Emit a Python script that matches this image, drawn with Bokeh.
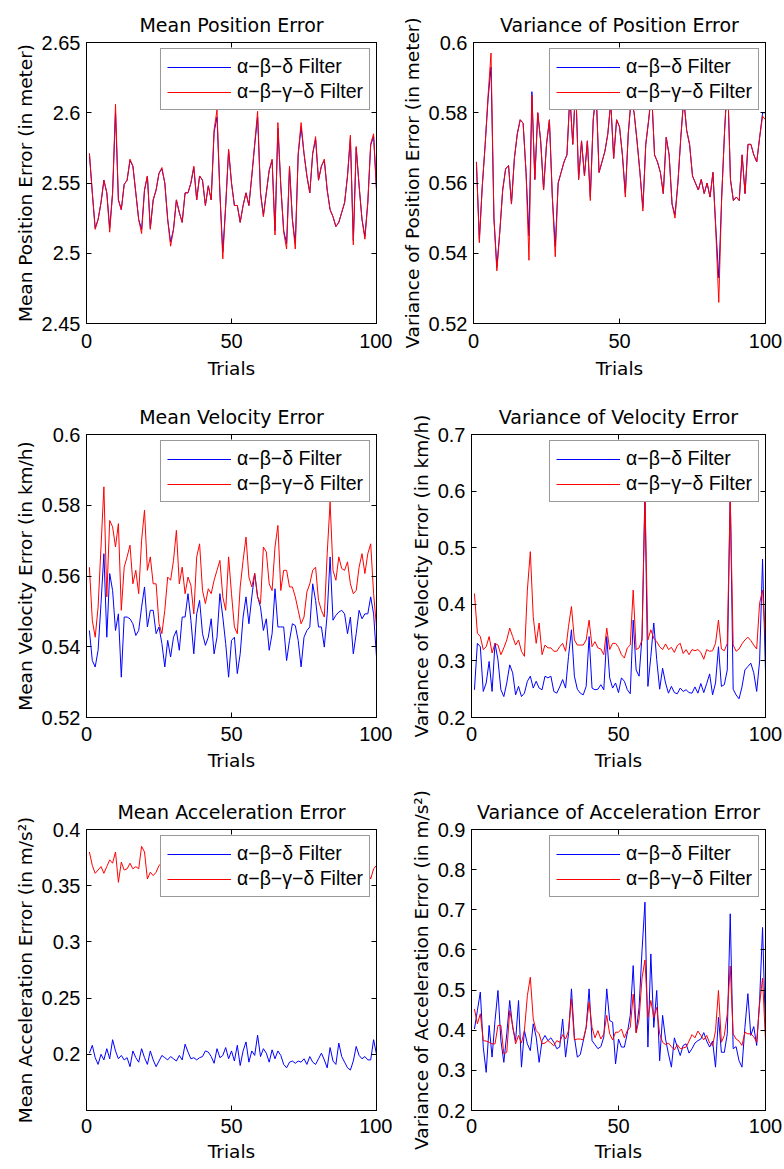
from bokeh.plotting import figure
from bokeh.models import (Range1d, FixedTicker, LinearAxis, CustomJSTickFormatter,
                          Legend, LegendItem)
from bokeh.layouts import column, row
from bokeh.embed import file_html
from bokeh.resources import INLINE

# ---------------- data ----------------
trials = list(range(1, 101))
x_ticks = [0, 50, 100]
series_labels = ["\u03b1\u2212\u03b2\u2212\u03b4 Filter", "\u03b1\u2212\u03b2\u2212\u03b3\u2212\u03b4 Filter"]

pos_mean_abgd = [2.571, 2.543, 2.517, 2.524, 2.536, 2.552, 2.543, 2.515, 2.543, 2.606,
                 2.538, 2.531, 2.549, 2.552, 2.567, 2.562, 2.543, 2.524, 2.514, 2.545,
                 2.555, 2.517, 2.538, 2.545, 2.557, 2.561, 2.550, 2.524, 2.505, 2.517,
                 2.538, 2.529, 2.522, 2.543, 2.543, 2.550, 2.562, 2.538, 2.555, 2.552,
                 2.534, 2.548, 2.538, 2.588, 2.602, 2.543, 2.496, 2.534, 2.574, 2.550,
                 2.534, 2.534, 2.522, 2.534, 2.543, 2.534, 2.555, 2.578, 2.601, 2.543,
                 2.526, 2.543, 2.559, 2.567, 2.513, 2.593, 2.548, 2.515, 2.503, 2.562,
                 2.524, 2.503, 2.571, 2.593, 2.571, 2.555, 2.543, 2.571, 2.583, 2.552,
                 2.562, 2.567, 2.545, 2.531, 2.526, 2.519, 2.522, 2.529, 2.536, 2.555,
                 2.584, 2.506, 2.576, 2.548, 2.524, 2.510, 2.536, 2.578, 2.585, 2.545]
pos_mean_abd = [2.571, 2.543, 2.518, 2.524, 2.536, 2.552, 2.543, 2.518, 2.543, 2.600,
                2.538, 2.531, 2.549, 2.552, 2.566, 2.562, 2.543, 2.524, 2.517, 2.545,
                2.555, 2.518, 2.538, 2.545, 2.557, 2.560, 2.550, 2.524, 2.508, 2.517,
                2.538, 2.529, 2.522, 2.543, 2.543, 2.550, 2.561, 2.538, 2.555, 2.552,
                2.534, 2.548, 2.538, 2.586, 2.597, 2.543, 2.501, 2.534, 2.573, 2.550,
                2.534, 2.534, 2.522, 2.534, 2.543, 2.534, 2.555, 2.577, 2.597, 2.543,
                2.527, 2.543, 2.559, 2.566, 2.516, 2.589, 2.548, 2.516, 2.507, 2.561,
                2.524, 2.507, 2.570, 2.590, 2.571, 2.555, 2.543, 2.571, 2.581, 2.552,
                2.562, 2.566, 2.545, 2.531, 2.526, 2.519, 2.522, 2.529, 2.536, 2.555,
                2.582, 2.509, 2.575, 2.548, 2.524, 2.512, 2.536, 2.577, 2.583, 2.545]

pos_var_abgd = [0.566, 0.543, 0.559, 0.571, 0.585, 0.597, 0.550, 0.535, 0.546, 0.558,
                0.564, 0.565, 0.554, 0.567, 0.574, 0.578, 0.577, 0.563, 0.538, 0.585,
                0.561, 0.580, 0.572, 0.558, 0.571, 0.578, 0.556, 0.539, 0.560, 0.563,
                0.566, 0.568, 0.585, 0.571, 0.588, 0.561, 0.572, 0.562, 0.572, 0.555,
                0.578, 0.586, 0.563, 0.566, 0.569, 0.574, 0.583, 0.567, 0.578, 0.576,
                0.568, 0.556, 0.574, 0.584, 0.580, 0.572, 0.563, 0.552, 0.571, 0.578,
                0.586, 0.568, 0.566, 0.563, 0.557, 0.573, 0.568, 0.554, 0.550, 0.560,
                0.573, 0.584, 0.575, 0.571, 0.562, 0.560, 0.558, 0.561, 0.557, 0.560,
                0.556, 0.563, 0.546, 0.526, 0.556, 0.575, 0.590, 0.561, 0.555, 0.556,
                0.555, 0.568, 0.557, 0.571, 0.571, 0.568, 0.566, 0.573, 0.579, 0.578]
pos_var_abd = [0.566, 0.544, 0.559, 0.571, 0.584, 0.593, 0.550, 0.536, 0.546, 0.558,
               0.564, 0.565, 0.554, 0.567, 0.574, 0.578, 0.577, 0.563, 0.545, 0.586,
               0.561, 0.580, 0.572, 0.558, 0.571, 0.578, 0.556, 0.542, 0.560, 0.563,
               0.566, 0.568, 0.585, 0.571, 0.588, 0.561, 0.572, 0.562, 0.572, 0.556,
               0.578, 0.586, 0.563, 0.566, 0.569, 0.574, 0.583, 0.567, 0.578, 0.576,
               0.568, 0.557, 0.574, 0.584, 0.580, 0.572, 0.563, 0.553, 0.571, 0.578,
               0.586, 0.568, 0.566, 0.563, 0.557, 0.573, 0.568, 0.554, 0.551, 0.560,
               0.573, 0.584, 0.575, 0.571, 0.562, 0.560, 0.558, 0.561, 0.557, 0.560,
               0.556, 0.563, 0.547, 0.533, 0.556, 0.575, 0.590, 0.561, 0.555, 0.556,
               0.555, 0.568, 0.557, 0.571, 0.571, 0.568, 0.566, 0.573, 0.580, 0.580]

vel_mean_abgd = [0.5625, 0.5475, 0.5427, 0.5512, 0.5682, 0.5852, 0.5541, 0.5757, 0.5739, 0.5682,
                 0.5748, 0.5503, 0.5625, 0.5654, 0.5687, 0.5578, 0.5616, 0.5550, 0.5701, 0.5786,
                 0.5616, 0.5654, 0.5578, 0.5578, 0.5465, 0.5437, 0.5503, 0.5597, 0.5588, 0.5644,
                 0.5729, 0.5578, 0.5625, 0.5550, 0.5597, 0.5574, 0.5493, 0.5654, 0.5691, 0.5559,
                 0.5522, 0.5564, 0.5550, 0.5588, 0.5616, 0.5644, 0.5541, 0.5503, 0.5654, 0.5550,
                 0.5456, 0.5437, 0.5569, 0.5644, 0.5710, 0.5597, 0.5569, 0.5607, 0.5541, 0.5522,
                 0.5682, 0.5668, 0.5578, 0.5559, 0.5682, 0.5743, 0.5559, 0.5616, 0.5616, 0.5569,
                 0.5569, 0.5541, 0.5503, 0.5465, 0.5484, 0.5555, 0.5578, 0.5616, 0.5625, 0.5531,
                 0.5503, 0.5484, 0.5663, 0.5809, 0.5616, 0.5588, 0.5654, 0.5621, 0.5616, 0.5640,
                 0.5578, 0.5550, 0.5559, 0.5625, 0.5663, 0.5607, 0.5663, 0.5691, 0.5550, 0.5456]
vel_mean_abd = [0.5446, 0.5361, 0.5343, 0.5390, 0.5522, 0.5663, 0.5427, 0.5607, 0.5559, 0.5446,
                0.5493, 0.5314, 0.5484, 0.5484, 0.5479, 0.5465, 0.5432, 0.5446, 0.5512, 0.5569,
                0.5456, 0.5503, 0.5503, 0.5437, 0.5456, 0.5409, 0.5343, 0.5418, 0.5371, 0.5427,
                0.5446, 0.5390, 0.5484, 0.5484, 0.5550, 0.5475, 0.5380, 0.5493, 0.5531, 0.5437,
                0.5404, 0.5427, 0.5479, 0.5380, 0.5427, 0.5550, 0.5484, 0.5409, 0.5314, 0.5418,
                0.5427, 0.5324, 0.5380, 0.5484, 0.5541, 0.5465, 0.5541, 0.5607, 0.5541, 0.5512,
                0.5446, 0.5479, 0.5390, 0.5437, 0.5564, 0.5456, 0.5456, 0.5456, 0.5361, 0.5418,
                0.5465, 0.5460, 0.5418, 0.5343, 0.5427, 0.5446, 0.5456, 0.5578, 0.5531, 0.5456,
                0.5456, 0.5399, 0.5493, 0.5654, 0.5475, 0.5489, 0.5498, 0.5503, 0.5493, 0.5437,
                0.5484, 0.5380, 0.5437, 0.5503, 0.5479, 0.5493, 0.5493, 0.5541, 0.5493, 0.5371]

vel_var_abgd = [0.419, 0.349, 0.343, 0.320, 0.325, 0.343, 0.314, 0.331, 0.328, 0.311,
                0.323, 0.337, 0.358, 0.343, 0.328, 0.337, 0.317, 0.308, 0.425, 0.493,
                0.378, 0.331, 0.367, 0.311, 0.328, 0.323, 0.323, 0.317, 0.317, 0.325,
                0.331, 0.317, 0.361, 0.396, 0.337, 0.328, 0.328, 0.328, 0.337, 0.372,
                0.325, 0.334, 0.323, 0.321, 0.311, 0.358, 0.320, 0.331, 0.331, 0.324,
                0.311, 0.305, 0.323, 0.328, 0.425, 0.320, 0.323, 0.337, 0.590, 0.337,
                0.355, 0.340, 0.334, 0.325, 0.320, 0.330, 0.320, 0.324, 0.315, 0.327,
                0.331, 0.313, 0.320, 0.311, 0.320, 0.318, 0.320, 0.315, 0.303, 0.320,
                0.317, 0.318, 0.331, 0.372, 0.321, 0.318, 0.331, 0.590, 0.328, 0.317,
                0.321, 0.330, 0.337, 0.342, 0.336, 0.328, 0.321, 0.402, 0.425, 0.337]
vel_var_abd = [0.249, 0.331, 0.325, 0.246, 0.261, 0.299, 0.246, 0.331, 0.302, 0.249,
               0.237, 0.261, 0.293, 0.279, 0.240, 0.255, 0.237, 0.243, 0.264, 0.273,
               0.252, 0.264, 0.252, 0.249, 0.273, 0.270, 0.273, 0.246, 0.243, 0.254,
               0.267, 0.252, 0.308, 0.355, 0.273, 0.250, 0.243, 0.240, 0.255, 0.343,
               0.252, 0.249, 0.250, 0.258, 0.249, 0.343, 0.270, 0.252, 0.261, 0.244,
               0.270, 0.264, 0.249, 0.242, 0.372, 0.284, 0.273, 0.343, 0.600, 0.255,
               0.308, 0.367, 0.302, 0.250, 0.287, 0.261, 0.243, 0.255, 0.244, 0.242,
               0.252, 0.246, 0.249, 0.244, 0.243, 0.254, 0.243, 0.260, 0.244, 0.260,
               0.277, 0.240, 0.261, 0.325, 0.255, 0.258, 0.284, 0.600, 0.250, 0.240,
               0.233, 0.254, 0.284, 0.290, 0.296, 0.279, 0.246, 0.300, 0.480, 0.280]

acc_mean_abgd = [0.380, 0.368, 0.361, 0.364, 0.367, 0.361, 0.367, 0.373, 0.370, 0.380,
                 0.353, 0.371, 0.364, 0.365, 0.370, 0.365, 0.367, 0.365, 0.385, 0.380,
                 0.356, 0.362, 0.359, 0.362, 0.368, 0.370, 0.365, 0.372, 0.360, 0.368,
                 0.375, 0.362, 0.370, 0.378, 0.364, 0.369, 0.372, 0.360, 0.366, 0.374,
                 0.368, 0.361, 0.371, 0.365, 0.377, 0.363, 0.369, 0.374, 0.362, 0.368,
                 0.372, 0.359, 0.366, 0.380, 0.371, 0.364, 0.367, 0.373, 0.382, 0.366,
                 0.361, 0.370, 0.368, 0.375, 0.362, 0.369, 0.371, 0.364, 0.360, 0.367,
                 0.373, 0.365, 0.362, 0.370, 0.368, 0.363, 0.371, 0.366, 0.374, 0.369,
                 0.362, 0.367, 0.372, 0.378, 0.365, 0.361, 0.376, 0.370, 0.364, 0.368,
                 0.372, 0.366, 0.361, 0.369, 0.373, 0.365, 0.362, 0.356, 0.365, 0.368]
acc_mean_abd = [0.201, 0.208, 0.197, 0.191, 0.200, 0.195, 0.205, 0.196, 0.213, 0.203,
                0.196, 0.199, 0.195, 0.197, 0.189, 0.203, 0.197, 0.193, 0.205, 0.197,
                0.191, 0.203, 0.195, 0.189, 0.194, 0.199, 0.197, 0.195, 0.198, 0.196,
                0.194, 0.199, 0.195, 0.209, 0.202, 0.196, 0.197, 0.195, 0.197, 0.198,
                0.203, 0.202, 0.198, 0.192, 0.205, 0.197, 0.199, 0.206, 0.196, 0.203,
                0.194, 0.208, 0.190, 0.203, 0.211, 0.193, 0.203, 0.199, 0.217, 0.198,
                0.205, 0.201, 0.193, 0.204, 0.196, 0.203, 0.199, 0.191, 0.188, 0.193,
                0.194, 0.192, 0.194, 0.193, 0.196, 0.191, 0.198, 0.193, 0.191, 0.196,
                0.201, 0.195, 0.188, 0.206, 0.194, 0.191, 0.210, 0.198, 0.193, 0.188,
                0.186, 0.194, 0.207, 0.199, 0.196, 0.198, 0.195, 0.195, 0.213, 0.200]

acc_var_abgd = [0.453, 0.416, 0.441, 0.374, 0.373, 0.370, 0.366, 0.366, 0.412, 0.412,
                0.341, 0.345, 0.449, 0.412, 0.366, 0.387, 0.368, 0.399, 0.486, 0.532,
                0.428, 0.399, 0.391, 0.366, 0.368, 0.374, 0.368, 0.361, 0.374, 0.370,
                0.389, 0.378, 0.399, 0.478, 0.376, 0.378, 0.378, 0.376, 0.407, 0.470,
                0.407, 0.381, 0.399, 0.378, 0.391, 0.437, 0.391, 0.376, 0.395, 0.395,
                0.403, 0.381, 0.399, 0.407, 0.490, 0.393, 0.428, 0.530, 0.575, 0.432,
                0.474, 0.432, 0.457, 0.391, 0.370, 0.364, 0.368, 0.359, 0.351, 0.364,
                0.354, 0.356, 0.358, 0.373, 0.389, 0.381, 0.398, 0.387, 0.376, 0.387,
                0.368, 0.361, 0.399, 0.499, 0.370, 0.387, 0.441, 0.560, 0.391, 0.378,
                0.373, 0.362, 0.395, 0.391, 0.391, 0.384, 0.370, 0.466, 0.530, 0.374]
acc_var_abd = [0.403, 0.449, 0.495, 0.358, 0.295, 0.412, 0.333, 0.424, 0.499, 0.374,
               0.320, 0.391, 0.474, 0.407, 0.374, 0.474, 0.308, 0.399, 0.366, 0.349,
               0.416, 0.383, 0.320, 0.374, 0.387, 0.374, 0.381, 0.370, 0.354, 0.358,
               0.428, 0.333, 0.391, 0.503, 0.383, 0.333, 0.339, 0.373, 0.407, 0.503,
               0.374, 0.364, 0.354, 0.359, 0.383, 0.503, 0.424, 0.420, 0.316, 0.378,
               0.358, 0.358, 0.393, 0.437, 0.561, 0.395, 0.457, 0.598, 0.719, 0.358,
               0.590, 0.407, 0.499, 0.324, 0.437, 0.378, 0.341, 0.308, 0.381, 0.358,
               0.337, 0.362, 0.366, 0.343, 0.354, 0.368, 0.374, 0.378, 0.394, 0.373,
               0.358, 0.373, 0.308, 0.432, 0.345, 0.345, 0.391, 0.690, 0.354, 0.359,
               0.324, 0.308, 0.407, 0.491, 0.387, 0.409, 0.362, 0.474, 0.656, 0.399]

pos_mean_ticks = [2.45, 2.5, 2.55, 2.6, 2.65]
pos_var_ticks = [0.52, 0.54, 0.56, 0.58, 0.6]
vel_mean_ticks = [0.52, 0.54, 0.56, 0.58, 0.6]
vel_var_ticks = [0.2, 0.3, 0.4, 0.5, 0.6, 0.7]
acc_mean_ticks = [0.2, 0.25, 0.3, 0.35, 0.4]
acc_var_ticks = [0.2, 0.3, 0.4, 0.5, 0.6, 0.7, 0.8, 0.9]

# ---------------- styling ----------------
TEXT_FONT = "DejaVu Sans"
NUM_FONT = "Liberation Sans"
BLUE = "#0000ff"
RED = "#ff0000"


def style_axis(ax, labels=True, standoff=6, label_standoff=4):
    ax.major_tick_in = 5
    ax.major_tick_out = 0
    ax.minor_tick_line_color = None
    ax.axis_line_color = "black"
    ax.major_tick_line_color = "black"
    if labels:
        ax.major_label_text_font = NUM_FONT
        ax.major_label_text_font_size = "20px"
        ax.major_label_text_color = "black"
        ax.major_label_standoff = standoff
        ax.axis_label_text_font = TEXT_FONT
        ax.axis_label_text_font_size = "18.5px"
        ax.axis_label_text_font_style = "normal"
        ax.axis_label_text_color = "black"
        ax.axis_label_standoff = label_standoff
        ax.formatter = CustomJSTickFormatter(code="return tick.toString();")
    else:
        ax.major_label_standoff = 0
        ax.formatter = CustomJSTickFormatter(code="return '';")
        ax.major_label_text_font_size = "0px"


def make_panel(title, ylabel, blue, red, ylo, yhi, yticks, w, h, bl, br, bt, bb,
               xstand, xlabstand):
    p = figure(width=w, height=h, x_range=Range1d(0, 100), y_range=Range1d(ylo, yhi),
               output_backend="svg", toolbar_location=None, title=title,
               x_axis_label="Trials", y_axis_label=ylabel,
               min_border_left=bl, min_border_right=br,
               min_border_top=bt, min_border_bottom=bb)
    p.grid.visible = False
    p.outline_line_color = "black"
    p.outline_line_width = 1
    p.background_fill_color = "white"
    p.border_fill_color = "white"

    p.title.align = "center"
    p.title.text_font = TEXT_FONT
    p.title.text_font_size = "19px"
    p.title.text_font_style = "normal"
    p.title.text_color = "black"
    p.title.standoff = 13

    p.xaxis.ticker = FixedTicker(ticks=x_ticks)
    p.yaxis.ticker = FixedTicker(ticks=yticks)
    for ax in p.xaxis:
        style_axis(ax, standoff=xstand, label_standoff=xlabstand)
    for ax in p.yaxis:
        style_axis(ax, standoff=6, label_standoff=3)

    top = LinearAxis(ticker=FixedTicker(ticks=x_ticks))
    right = LinearAxis(ticker=FixedTicker(ticks=yticks))
    style_axis(top, labels=False)
    style_axis(right, labels=False)
    p.add_layout(top, "above")
    p.add_layout(right, "right")

    rb = p.line(trials, blue, line_color=BLUE, line_width=1)
    rr = p.line(trials, red, line_color=RED, line_width=1)

    legend = Legend(items=[LegendItem(label=series_labels[0], renderers=[rb]),
                           LegendItem(label=series_labels[1], renderers=[rr])],
                    location="top_right", margin=6, padding=6, spacing=2,
                    glyph_width=64, glyph_height=20, label_height=20,
                    label_standoff=6, label_text_font=NUM_FONT,
                    label_text_font_size="19.5px", label_text_color="black",
                    border_line_color="#333333", border_line_width=1,
                    background_fill_color="white", background_fill_alpha=1.0)
    p.add_layout(legend, "center")
    return p


p1 = make_panel("Mean Position Error", "Mean Position Error (in meter)",
                pos_mean_abd, pos_mean_abgd, 2.45, 2.65, pos_mean_ticks,
                392, 390, 86, 16, 42, 67, 10, 7)
p2 = make_panel("Variance of Position Error", "Variance of Position Error (in meter)",
                pos_var_abd, pos_var_abgd, 0.52, 0.6, pos_var_ticks,
                392, 390, 81, 19, 42, 67, 10, 7)
p3 = make_panel("Mean Velocity Error", "Mean Velocity Error (in km/h)",
                vel_mean_abd, vel_mean_abgd, 0.52, 0.6, vel_mean_ticks,
                392, 390, 86, 16, 44, 63, 9, 6)
p4 = make_panel("Variance of Velocity Error", "Variance of Velocity Error (in km/h)",
                vel_var_abd, vel_var_abgd, 0.2, 0.7, vel_var_ticks,
                392, 390, 79, 19, 44, 62, 9, 6)
p5 = make_panel("Mean Acceleration Error", "Mean Acceleration Error (in m/s\u00b2)",
                acc_mean_abd, acc_mean_abgd, 0.15, 0.4, acc_mean_ticks,
                392, 389, 86, 16, 49, 58, 8, 5)
p6 = make_panel("Variance of Acceleration Error", "Variance of Acceleration Error (in m/s\u00b2)",
                acc_var_abd, acc_var_abgd, 0.2, 0.9, acc_var_ticks,
                392, 389, 79, 19, 49, 59, 8, 5)

layout = column(row(p1, p2), row(p3, p4), row(p5, p6))
open("out.html", "w").write(file_html(layout, INLINE))
